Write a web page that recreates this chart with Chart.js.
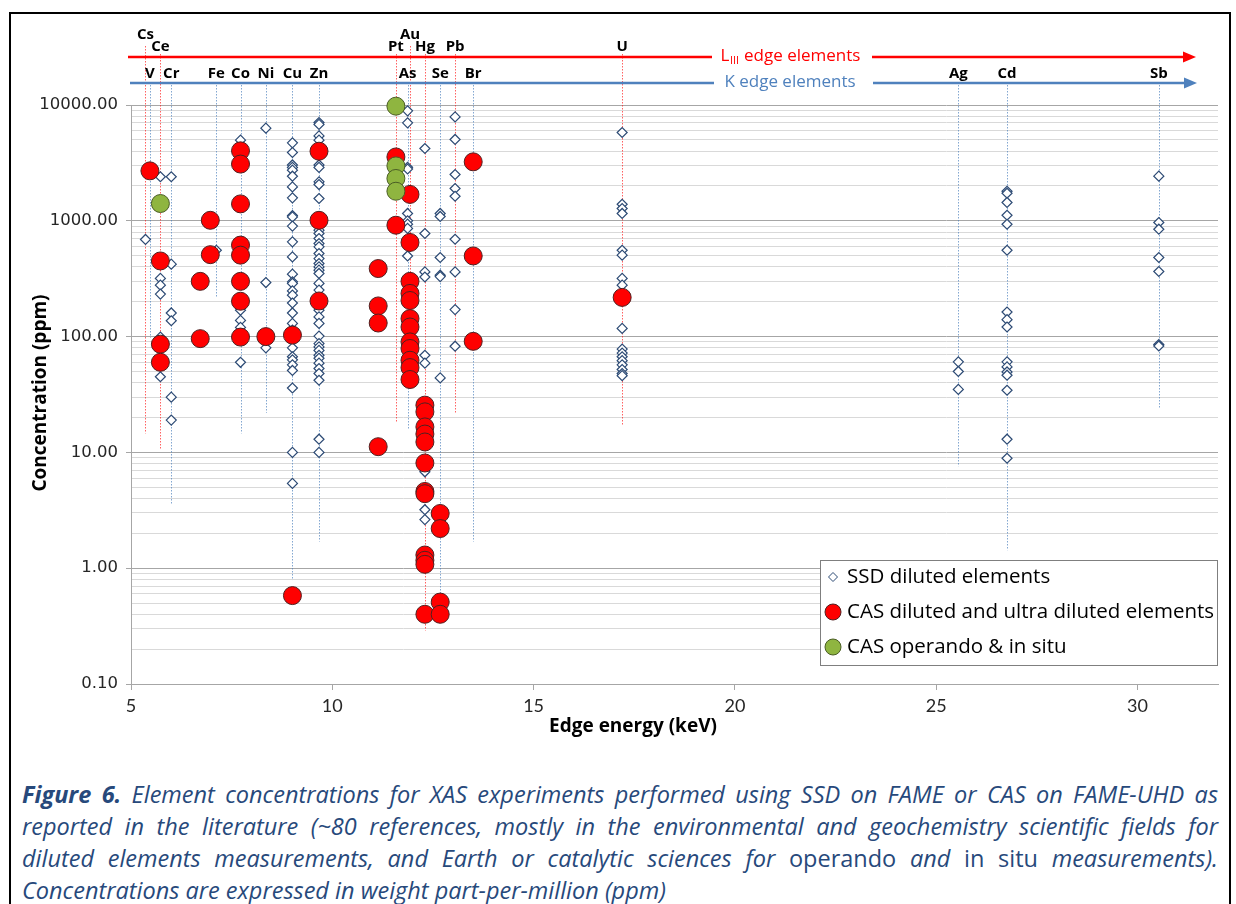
<!DOCTYPE html>
<html>
<head>
<meta charset="utf-8">
<script src="https://cdn.jsdelivr.net/npm/chart.js@4.4.0/dist/chart.umd.min.js"></script>
<style>
  body { margin: 0; background: #fff; }
  #frame { position: absolute; left: 9px; top: 12px; width: 1218px; height: 1000px; border: 2px solid #000; }
  #chart { position: absolute; left: 0; top: 0; }
  #caption { position: absolute; left: 22px; top: 778px; width: 1196px;
    font-family: "Open Sans", Lato, sans-serif; font-style: italic; font-size: 23.5px;
    line-height: 32px; color: #27497b; }
  #caption div { text-align: justify; text-align-last: justify; white-space: nowrap; }
  #caption div.last { text-align-last: left; }
  #caption b { font-weight: bold; }
  #caption span { font-style: normal; }
</style>
</head>
<body>
<div id="frame"></div>
<canvas id="chart" width="1236" height="760"></canvas>
<div id="caption">
  <div><b>Figure 6.</b> Element concentrations for XAS experiments performed using SSD on FAME or CAS on FAME-UHD as</div>
  <div>reported in the literature (~80 references, mostly in the environmental and geochemistry scientific fields for</div>
  <div>diluted elements measurements, and Earth or catalytic sciences for <span>operando</span> and <span>in situ</span> measurements).</div>
  <div class="last">Concentrations are expressed in weight part-per-million (ppm)</div>
</div>
<script>
// elements, their edge energy (keV), edge type, label row and how far down their dotted line goes (ppm)
const elements   = ['Cs', 'V', 'Ce', 'Cr', 'Fe', 'Co', 'Ni', 'Cu', 'Zn', 'Pt', 'As', 'Au', 'Hg', 'Se', 'Pb', 'Br', 'U', 'Ag', 'Cd', 'Sb'];
const edgeKeV    = [5.36, 5.47, 5.73, 6.0, 7.12, 7.72, 8.35, 9.01, 9.67, 11.58, 11.87, 11.93, 12.3, 12.68, 13.05, 13.5, 17.2, 25.55, 26.76, 30.53];
const edgeType   = ['L', 'K', 'L', 'K', 'K', 'K', 'K', 'K', 'K', 'L', 'K', 'L', 'L', 'K', 'L', 'K', 'L', 'K', 'K', 'K'];
const labelRow   = [0, 2, 1, 2, 2, 2, 2, 2, 2, 1, 2, 0, 1, 2, 1, 2, 1, 2, 2, 2];
const lineEndPpm = [14.6, 98, 10.5, 3.6, 220, 14.6, 22, 0.79, 1.7, 18, 16, 40, 0.29, 0.45, 22, 1.7, 17, 7.6, 1.43, 24];

// [element or keV, concentrations in ppm]
const ssdSeries = [
  ['Cs', [690]],
  ['Ce', [2400, 318, 278, 233, 99, 45]],
  ['Cr', [2400, 422, 160, 137, 30, 19]],
  ['Fe', [557]],
  ['Co', [4970, 169, 138, 120, 60]],
  ['Ni', [6310, 293, 80]],
  ['Cu', [4710, 3890, 3035, 2890, 2735, 2427, 1963, 1578, 1110, 1080, 900, 658, 488, 346, 297, 288, 248, 228, 195,
          160, 130, 114, 80, 67, 63, 57, 51, 36, 10, 5.4]],
  ['Zn', [7060, 6800, 5410, 4970, 3035, 2890, 2170, 2057, 1558, 830, 777, 703, 637, 596, 522, 472, 428, 400, 375,
          351, 288, 252, 169, 148, 130, 101, 87, 81.5, 76, 69, 65, 59, 53, 48, 42, 13, 10]],
  ['As', [8900, 7010, 2900, 2800, 1157, 1000, 935, 860, 497]],
  ['Hg', [4210, 777, 362, 327, 69, 59, 6.8, 3.2, 2.63]],
  ['Se', [1157, 1090, 482, 339, 330, 44]],
  ['Pb', [7890, 5040, 2510, 1900, 1630, 693, 362, 171, 82.6]],
  ['U',  [5790, 1390, 1277, 1157, 557, 505, 318, 278, 117.6, 78, 72, 67, 62, 57, 52, 48, 46]],
  ['Ag', [60.5, 50, 35]],
  ['Cd', [1800, 1730, 1440, 1117, 934, 557, 163, 140, 121, 60.5, 54.7, 49.5, 46.4, 34.4, 13, 8.9]],
  ['Sb', [2430, 967, 846, 482, 365, 85.5, 83]]
];
const casSeries = [
  ['V',  [2700]],
  ['Ce', [450, 86, 60]],
  [6.97, [1010, 510]],
  [6.72, [300, 96]],
  ['Co', [4020, 3090, 1400, 617, 505, 300, 202, 99]],
  ['Ni', [100]],
  ['Cu', [103, 0.58]],
  ['Zn', [3990, 1010, 203]],
  [11.14, [387, 184, 131, 11.2]],
  ['Pt', [3560, 916]],
  ['Au', [1690, 650, 300, 236, 205, 143, 121, 90, 79, 62.5, 54, 42.6]],
  ['Hg', [25.6, 22.4, 16.6, 14.4, 12.3, 8.1, 4.6, 4.4, 1.3, 1.17, 1.08, 0.40]],
  ['Se', [2.97, 2.2, 0.51, 0.40]],
  ['Br', [3230, 497, 91]],
  ['U',  [218]]
];
const operandoSeries = [
  ['Ce', [1410]],
  ['Pt', [9770, 2980, 2320, 1800]]
];

const seriesNames = ['SSD diluted elements', 'CAS diluted and ultra diluted elements', 'CAS operando & in situ'];
const xTicks = [5, 10, 15, 20, 25, 30];
const decades = [0.1, 1, 10, 100, 1000];
const yTicks = decades.flatMap(d => [1, 2, 3, 4, 5, 6, 7, 8, 9].map(m => +(d * m).toPrecision(3))).concat([10000]);

function keV(el) {
  return typeof el === 'number' ? el : edgeKeV[elements.indexOf(el)];
}
function toPoints(series) {
  return series.flatMap(([el, vals]) => vals.map(v => ({ x: keV(el), y: v })));
}
function isDecade(v) {
  const l = Math.log10(v);
  return Math.abs(l - Math.round(l)) < 1e-9;
}

const rowY = [35, 47, 74];      // label rows above the plot
const lineTop = [46, 54, 82];   // where the dotted lines start
const labelFont = '"Open Sans", Lato, sans-serif';

function arrow(ctx, x0, x1, yy, gapL, gapR, color) {
  ctx.strokeStyle = color;
  ctx.lineWidth = 2.5;
  ctx.beginPath();
  ctx.moveTo(x0, yy); ctx.lineTo(gapL, yy);
  ctx.moveTo(gapR, yy); ctx.lineTo(x1 - 10, yy);
  ctx.stroke();
  ctx.fillStyle = color;
  ctx.beginPath();
  ctx.moveTo(x1, yy); ctx.lineTo(x1 - 13, yy - 5.5); ctx.lineTo(x1 - 13, yy + 5.5);
  ctx.closePath();
  ctx.fill();
}

const decor = {
  id: 'decor',
  beforeDatasetsDraw(chart) {
    const { ctx, scales: { x, y } } = chart;
    ctx.save();
    ctx.lineWidth = 1;
    ctx.setLineDash([1.5, 1.5]);
    elements.forEach((el, i) => {
      const px = Math.round(x.getPixelForValue(edgeKeV[i])) + 0.5;
      ctx.strokeStyle = edgeType[i] === 'L' ? 'rgba(255,30,30,0.7)' : 'rgba(79,129,189,0.7)';
      ctx.beginPath();
      ctx.moveTo(px, lineTop[labelRow[i]]);
      ctx.lineTo(px, y.getPixelForValue(lineEndPpm[i]));
      ctx.stroke();
    });
    ctx.restore();
  },
  afterDraw(chart) {
    const { ctx, scales: { x } } = chart;
    ctx.save();

    // edge arrows
    arrow(ctx, 128, 1196, 57, 712, 872, '#ff0000');
    arrow(ctx, 130, 1197, 83, 714, 873, '#4f81bd');

    ctx.textBaseline = 'middle';
    ctx.font = '17px ' + labelFont;
    const w1 = ctx.measureText('L').width;
    ctx.font = '11px ' + labelFont;
    const w2 = ctx.measureText('III').width;
    ctx.font = '17px ' + labelFont;
    const w3 = ctx.measureText(' edge elements').width;
    let tx = 790 - (w1 + w2 + w3) / 2;
    ctx.fillStyle = '#ff0000';
    ctx.textAlign = 'left';
    ctx.fillText('L', tx, 56);
    ctx.font = '11px ' + labelFont;
    ctx.fillText('III', tx + w1 + 0.5, 61);
    ctx.font = '17px ' + labelFont;
    ctx.fillText(' edge elements', tx + w1 + w2 + 1, 56);

    ctx.fillStyle = '#4f81bd';
    ctx.textAlign = 'center';
    ctx.fillText('K edge elements', 790, 82);

    // element labels
    ctx.fillStyle = '#000';
    ctx.font = 'bold 15px ' + labelFont;
    elements.forEach((el, i) => {
      ctx.fillText(el, x.getPixelForValue(edgeKeV[i]), rowY[labelRow[i]]);
    });

    // axis titles
    ctx.font = 'bold 19px ' + labelFont;
    ctx.fillText('Edge energy (keV)', 633, 727);
    ctx.save();
    ctx.translate(41, 393);
    ctx.rotate(-Math.PI / 2);
    ctx.fillText('Concentration (ppm)', 0, 0);
    ctx.restore();

    // legend
    ctx.fillStyle = '#fff';
    ctx.fillRect(820.5, 560.5, 397, 105);
    ctx.strokeStyle = '#7f7f7f';
    ctx.lineWidth = 1;
    ctx.strokeRect(820.5, 560.5, 397, 105);
    const rows = [577, 612, 647];
    chart.data.datasets.forEach((ds, i) => {
      const cy = rows[i];
      ctx.beginPath();
      if (ds.pointStyle === 'rectRot') {
        ctx.moveTo(833, cy - 4.5); ctx.lineTo(837.5, cy); ctx.lineTo(833, cy + 4.5); ctx.lineTo(828.5, cy);
        ctx.closePath();
        ctx.fillStyle = '#fff';
        ctx.fill();
        ctx.strokeStyle = ds.borderColor;
        ctx.lineWidth = 1;
        ctx.stroke();
      } else {
        ctx.arc(833, cy, 8, 0, Math.PI * 2);
        ctx.fillStyle = ds.backgroundColor;
        ctx.fill();
        ctx.strokeStyle = ds.borderColor;
        ctx.lineWidth = 1;
        ctx.stroke();
      }
      ctx.fillStyle = '#000';
      ctx.textAlign = 'left';
      ctx.font = '20.5px ' + labelFont;
      ctx.fillText(ds.label, 847, cy);
    });
    ctx.restore();
  }
};

new Chart(document.getElementById('chart'), {
  type: 'scatter',
  data: {
    datasets: [
      {
        label: seriesNames[0],
        data: toPoints(ssdSeries),
        pointStyle: 'rectRot',
        radius: 5,
        backgroundColor: '#ffffff',
        borderColor: '#2c4a74',
        borderWidth: 1.2,
        order: 3,
        clip: false
      },
      {
        label: seriesNames[1],
        data: toPoints(casSeries),
        pointStyle: 'circle',
        radius: 9,
        backgroundColor: '#ff0000',
        borderColor: '#502020',
        borderWidth: 1,
        order: 2,
        clip: false
      },
      {
        label: seriesNames[2],
        data: toPoints(operandoSeries),
        pointStyle: 'circle',
        radius: 9,
        backgroundColor: '#8fb540',
        borderColor: '#4a5d25',
        borderWidth: 1,
        order: 1,
        clip: false
      }
    ]
  },
  options: {
    responsive: false,
    animation: false,
    devicePixelRatio: 1,
    layout: { padding: { left: 0, top: 105, right: 18, bottom: 0 } },
    plugins: { legend: { display: false }, tooltip: { enabled: false } },
    scales: {
      x: {
        type: 'linear',
        min: 5,
        max: 32,
        afterBuildTicks: s => { s.ticks = xTicks.map(v => ({ value: v })); },
        afterFit: s => { s.height = 76; },
        grid: { drawOnChartArea: false, tickLength: 6, color: '#a6a6a6' },
        border: { color: '#a6a6a6' },
        ticks: {
          padding: 5,
          color: '#262626',
          font: { family: '"Liberation Sans Narrow", Lato, sans-serif', size: 18 }
        }
      },
      y: {
        type: 'logarithmic',
        min: 0.1,
        max: 10000,
        afterBuildTicks: s => { s.ticks = yTicks.map(v => ({ value: v })); },
        afterFit: s => { s.width = 131; },
        grid: {
          tickLength: 5,
          color: c => isDecade(c.tick.value) ? '#a6a6a6' : '#d9d9d9',
          tickColor: c => isDecade(c.tick.value) ? '#a6a6a6' : 'rgba(0,0,0,0)'
        },
        border: { color: '#a6a6a6' },
        ticks: {
          autoSkip: false,
          padding: 8,
          color: '#262626',
          font: { family: '"DejaVu Sans", sans-serif', size: 16.5 },
          callback: v => isDecade(v) ? v.toFixed(2) : ''
        }
      }
    }
  },
  plugins: [decor]
});
</script>
</body>
</html>
